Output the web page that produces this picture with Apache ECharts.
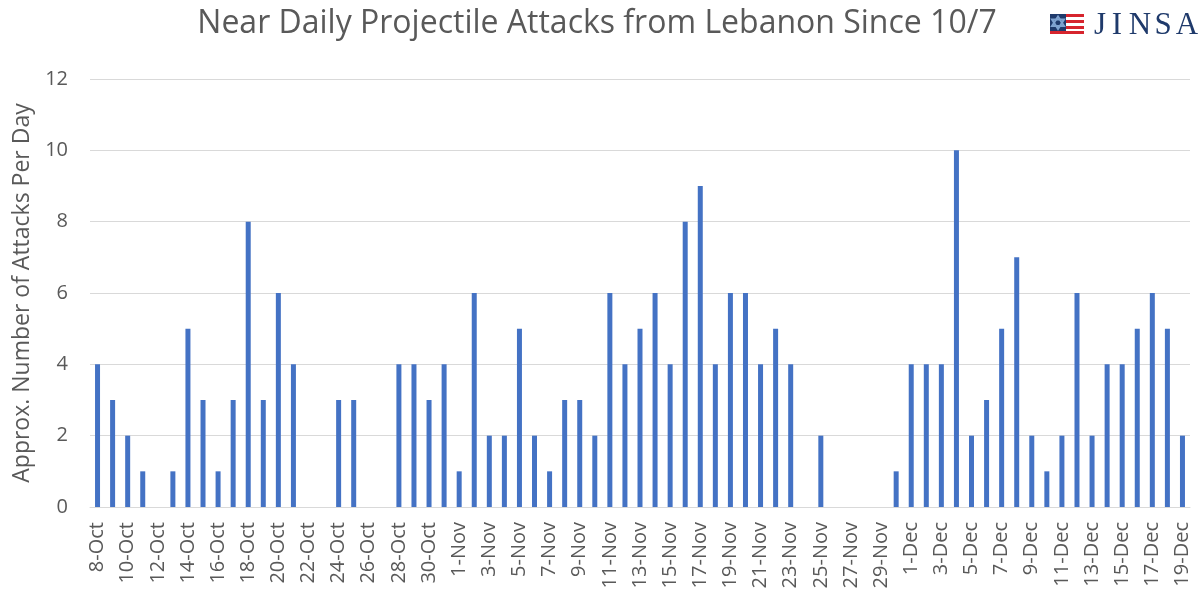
<!DOCTYPE html>
<html>
<head>
<meta charset="utf-8">
<script src="https://cdn.jsdelivr.net/npm/echarts@6/dist/echarts.min.js"></script>
<style>
  html, body { margin: 0; padding: 0; background: #fff; }
  #chart { width: 1199px; height: 592px; }
</style>
</head>
<body>
<div id="chart"></div>
<script>
// one entry per day, 8-Oct .. 19-Dec
const octDays = [8, 9, 10, 11, 12, 13, 14, 15, 16, 17, 18, 19, 20, 21, 22, 23, 24, 25, 26, 27, 28, 29, 30, 31];
const novDays = [1, 2, 3, 4, 5, 6, 7, 8, 9, 10, 11, 12, 13, 14, 15, 16, 17, 18, 19, 20, 21, 22, 23, 24, 25, 26, 27, 28, 29, 30];
const decDays = [1, 2, 3, 4, 5, 6, 7, 8, 9, 10, 11, 12, 13, 14, 15, 16, 17, 18, 19];

const octAttacks = [4, 3, 2, 1, 0, 1, 5, 3, 1, 3, 8, 3, 6, 4, 0, 0, 3, 3, 0, 0, 4, 4, 3, 4];
const novAttacks = [1, 6, 2, 2, 5, 2, 1, 3, 3, 2, 6, 4, 5, 6, 4, 8, 9, 4, 6, 6, 4, 5, 4, 0, 2, 0, 0, 0, 0, 1];
const decAttacks = [4, 4, 4, 10, 2, 3, 5, 7, 2, 1, 2, 6, 2, 4, 4, 5, 6, 5, 2];

const yTicks = [0, 2, 4, 6, 8, 10, 12];

const categories = []
  .concat(octDays.map(d => d + '-Oct'))
  .concat(novDays.map(d => d + '-Nov'))
  .concat(decDays.map(d => d + '-Dec'));
const values = [].concat(octAttacks, novAttacks, decAttacks);

// logo wordmark, one letter at a time to get the wide spacing
const logoLetters = ['J', 'I', 'N', 'S', 'A'];
const logoX = [1100, 1117, 1140, 1163, 1187];

const chart = echarts.init(document.getElementById('chart'));

chart.setOption({
  animation: false,
  title: {
    text: 'Near Daily Projectile Attacks from Lebanon Since 10/7',
    left: 592,
    textAlign: 'center',
    top: 3,
    textStyle: {
      fontFamily: 'Open Sans, Calibri, sans-serif',
      fontWeight: 'normal',
      fontSize: 32,
      color: '#595959'
    }
  },
  grid: {
    left: 90,
    right: 9,
    top: 79,
    bottom: 85,
    outerBoundsMode: 'none'
  },
  xAxis: {
    type: 'category',
    data: categories,
    axisLine: { lineStyle: { color: '#d9d9d9', width: 1 } },
    axisTick: { show: false },
    axisLabel: {
      interval: 1,
      rotate: 90,
      fontSize: 20,
      color: '#595959',
      fontFamily: 'Open Sans, Calibri, sans-serif',
      margin: 15
    }
  },
  yAxis: {
    type: 'value',
    min: yTicks[0],
    max: yTicks[yTicks.length - 1],
    interval: 2,
    name: 'Approx. Number of Attacks Per Day',
    nameLocation: 'middle',
    nameGap: 56,
    nameTextStyle: {
      fontSize: 23,
      color: '#595959',
      fontFamily: 'Open Sans, Calibri, sans-serif'
    },
    axisLine: { show: false },
    axisTick: { show: false },
    axisLabel: {
      fontSize: 20,
      color: '#595959',
      fontFamily: 'Open Sans, Calibri, sans-serif',
      margin: 22
    },
    splitLine: { lineStyle: { color: '#d9d9d9', width: 1 } }
  },
  series: [{
    type: 'bar',
    data: values,
    barWidth: 5,
    itemStyle: { color: '#4472c4' }
  }],
  graphic: [
    // logo: flag mark
    { type: 'rect', shape: { x: 1050, y: 14, width: 34, height: 20 }, style: { fill: '#ffffff' } },
    { type: 'rect', shape: { x: 1066, y: 14, width: 18, height: 3 }, style: { fill: '#d6242d' } },
    { type: 'rect', shape: { x: 1066, y: 20, width: 18, height: 3 }, style: { fill: '#d6242d' } },
    { type: 'rect', shape: { x: 1066, y: 26, width: 18, height: 3 }, style: { fill: '#d6242d' } },
    { type: 'rect', shape: { x: 1050, y: 31, width: 34, height: 3 }, style: { fill: '#d6242d' } },
    { type: 'rect', shape: { x: 1050, y: 14, width: 16, height: 17 }, style: { fill: '#1f3a6b' } },
    { type: 'polygon', shape: { points: [[1058, 16.5], [1064, 26], [1052, 26]] }, style: { fill: 'none', stroke: '#7fa3d0', lineWidth: 2 } },
    { type: 'polygon', shape: { points: [[1058, 29], [1064, 19.5], [1052, 19.5]] }, style: { fill: 'none', stroke: '#7fa3d0', lineWidth: 2 } }
  ].concat(logoLetters.map((ch, i) => ({
    type: 'text',
    x: logoX[i],
    y: 10,
    style: {
      text: ch,
      fill: '#1f3a6b',
      font: '31px "Liberation Serif", "DejaVu Serif", serif',
      align: 'center',
      verticalAlign: 'top'
    }
  })))
});
</script>
</body>
</html>
